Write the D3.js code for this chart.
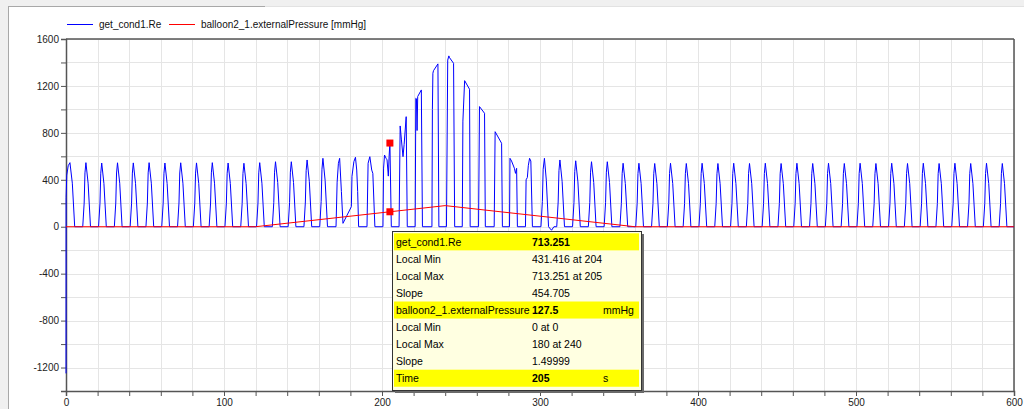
<!DOCTYPE html>
<html><head><meta charset="utf-8">
<script src="https://cdn.jsdelivr.net/npm/d3@7"></script>
<style>
html,body{margin:0;padding:0;background:#f0f0f0;}
svg{display:block;}
text{font-family:"Liberation Sans",Arial,sans-serif;}
</style></head>
<body>
<svg id="chart" width="1024" height="409"></svg>
<script>
// ---------- data ----------
const seriesNames = ["get_cond1.Re", "balloon2_1.externalPressure [mmHg]"];
const seriesColors = ["#0000ff", "#ff0000"];

// get_cond1.Re : [time (s), value]
const reData = [
  [0,-1250],[0.05,250],[0.5,440],[1.4,520],[2.5,546],[4.0,371],[5.5,0],
  [10.6,0],[11.5,202],[12,459],[12.6,546],[14,371],[15.5,0],
  [20.6,0],[21.5,201],[22,456],[22.6,543],[24,369],[25.5,0],
  [30.6,0],[31.5,202],[32,458],[32.6,545],[34,371],[35.5,0],
  [40.6,0],[41.5,201],[42,457],[42.6,544],[44,370],[45.5,0],
  [50.6,0],[51.5,202],[52,459],[52.6,546],[54,371],[55.5,0],
  [60.6,0],[61.5,201],[62,456],[62.6,543],[64,369],[65.5,0],
  [70.6,0],[71.5,202],[72,458],[72.6,545],[74,371],[75.5,0],
  [80.6,0],[81.5,201],[82,457],[82.6,544],[84,370],[85.5,0],
  [90.6,0],[91.5,202],[92,459],[92.6,546],[94,371],[95.5,0],
  [100.6,0],[101.5,201],[102,456],[102.6,543],[104,369],[105.5,0],
  [110.6,0],[111.5,200],[112,454],[112.6,541],[114,368],[115.5,0],
  [120.6,0],[121.5,202],[122,459],[122.6,546],[124,371],[125.5,0],
  [130.6,0],[131.5,205],[132,465],[132.6,554],[134,377],[135.5,0],
  [140.6,0],[141.5,205],[142,465],[142.6,554],[144,377],[145.5,0],
  [150.6,0],[151.5,211],[152,478],[152.6,569],[154,387],[155.5,0],
  [160.6,0],[161.5,216],[162,490],[162.6,583],[164,396],[165.5,0],
  [170.9,0],[171.6,380],[172.4,540],[173.2,583],[174.3,300],[175.3,29],[180.6,171],
  [181.0,430],[182.2,555],[183.2,592],[184.0,483],[184.6,300],[185.2,0],
  [190.5,0],[191.2,541],[192.3,597],[193.5,483],[194.2,455],[195.5,0],
  [200.6,0],[201.0,500],[201.6,611],[202.6,583],[203.2,570],[204,431.416],[204.5,600],[205,713.251],[205.9,0],
  [210.8,0],[211.5,859],[212.3,740],[213.3,597],[214.0,700],[215.3,938],[216.0,0],
  [221.0,0],[221.4,1095],[221.8,1090],[222.2,820],[222.6,1110],[224.9,1166],[225.6,0],
  [231.6,0],[231.9,1000],[232.2,1308],[232.6,1330],[235.4,1388],[236.0,0],
  [240.8,0],[241.6,1420],[242.3,1456],[242.8,1440],[245.3,1393],[246.0,0],
  [250.8,0],[251.2,900],[252.3,1245],[255.4,1172],[255.8,0],
  [261.1,0],[261.7,1024],[264.9,967],[265.4,0],
  [271.0,0],[271.6,810],[275.7,711],[276.2,0],
  [280.7,0],[281.0,583],[282.0,560],[283.8,498],[284.5,455],[285.2,498],[285.7,0],
  [290.8,0],[291.2,400],[292.0,420],[292.6,520],[293.4,583],[294.2,560],[295.2,0],
  [300.6,0],[301.5,216],[302.0,490],[302.8,583],[304.0,396],[305.4,0],[307.3,-30],[308.8,0],
  [310.6,0],[311.5,211],[312,478],[312.6,569],[314,387],[315.5,0],
  [320.6,0],[321.5,208],[322,472],[322.6,562],[324,382],[325.5,0],
  [330.6,0],[331.5,205],[332,465],[332.6,554],[334,377],[335.5,0],
  [340.6,0],[341.5,205],[342,465],[342.6,554],[344,377],[345.5,0],
  [350.6,0],[351.5,200],[352,454],[352.6,541],[354,368],[355.5,0],
  [360.6,0],[361.5,200],[362,454],[362.6,541],[364,368],[365.5,0],
  [370.6,0],[371.5,199],[372,452],[372.6,539],[374,367],[375.5,0],
  [380.6,0],[381.5,200],[382,454],[382.6,541],[384,368],[385.5,0],
  [390.6,0],[391.5,199],[392,452],[392.6,539],[394,367],[395.5,0],
  [400.6,0],[401.5,200],[402,454],[402.6,541],[404,368],[405.5,0],
  [410.6,0],[411.5,199],[412,452],[412.6,539],[414,367],[415.5,0],
  [420.6,0],[421.5,200],[422,454],[422.6,541],[424,368],[425.5,0],
  [430.6,0],[431.5,199],[432,452],[432.6,539],[434,367],[435.5,0],
  [440.6,0],[441.5,200],[442,454],[442.6,541],[444,368],[445.5,0],
  [450.6,0],[451.5,199],[452,452],[452.6,539],[454,367],[455.5,0],
  [460.6,0],[461.5,200],[462,454],[462.6,541],[464,368],[465.5,0],
  [470.6,0],[471.5,199],[472,452],[472.6,539],[474,367],[475.5,0],
  [480.6,0],[481.5,200],[482,454],[482.6,541],[484,368],[485.5,0],
  [490.6,0],[491.5,199],[492,452],[492.6,539],[494,367],[495.5,0],
  [500.6,0],[501.5,200],[502,454],[502.6,541],[504,368],[505.5,0],
  [510.6,0],[511.5,199],[512,452],[512.6,539],[514,367],[515.5,0],
  [520.6,0],[521.5,200],[522,454],[522.6,541],[524,368],[525.5,0],
  [530.6,0],[531.5,199],[532,452],[532.6,539],[534,367],[535.5,0],
  [540.6,0],[541.5,200],[542,454],[542.6,541],[544,368],[545.5,0],
  [550.6,0],[551.5,199],[552,452],[552.6,539],[554,367],[555.5,0],
  [560.6,0],[561.5,200],[562,454],[562.6,541],[564,368],[565.5,0],
  [570.6,0],[571.5,199],[572,452],[572.6,539],[574,367],[575.5,0],
  [580.6,0],[581.5,200],[582,454],[582.6,541],[584,368],[585.5,0],
  [590.6,0],[591.5,199],[592,452],[592.6,539],[594,367],[595.5,0],
  [600,0]
];

// balloon2_1.externalPressure [mmHg] : [time (s), value]
const pressureData = [[0,0],[120,0],[240,180],[360,0],[600,0]];

// cursor markers at t = 205
const markers = [[205, 713.251], [205, 127.5]];

const xTicks = [0,100,200,300,400,500,600];
const xMinor = d3.range(0, 601, 20);
const yTicks = [-1200,-800,-400,0,400,800,1200,1600];
const yMinor = d3.range(-1400, 1601, 200);

// tooltip rows: [label, value, unit, highlighted]
const tipRows = [
  ["get_cond1.Re", "713.251", "", true],
  ["Local Min", "431.416 at 204", "", false],
  ["Local Max", "713.251 at 205", "", false],
  ["Slope", "454.705", "", false],
  ["balloon2_1.externalPressure", "127.5", "mmHg", true],
  ["Local Min", "0 at 0", "", false],
  ["Local Max", "180 at 240", "", false],
  ["Slope", "1.49999", "", false],
  ["Time", "205", "s", true]
];

// ---------- drawing ----------
(function(){
const svg = d3.select("#chart");
const W = 1024, H = 409;
const pl = 66, pr = 1014, pt = 39, pb = 391;

// frame
svg.append("rect").attr("x",0).attr("y",0).attr("width",W).attr("height",H).attr("fill","#f0f0f0");
svg.append("rect").attr("x",9).attr("y",7).attr("width",W-9).attr("height",H-7).attr("fill","#ffffff");
svg.append("line").attr("x1",8.5).attr("x2",8.5).attr("y1",6).attr("y2",H).attr("stroke","#a8a8a8");
svg.append("line").attr("x1",8).attr("x2",265).attr("y1",6.5).attr("y2",6.5).attr("stroke","#a8a8a8");
svg.append("line").attr("x1",265).attr("x2",W).attr("y1",6.5).attr("y2",6.5).attr("stroke","#e2e2e2");

const x = d3.scaleLinear().domain([0,600]).range([pl,pr]);
const y = d3.scaleLinear().domain([-1400,1600]).range([pb,pt]);

// grid
const grid = svg.append("g");
grid.selectAll(".gx").data(xMinor).enter().append("line")
  .attr("x1",d=>Math.round(x(d))+0.5).attr("x2",d=>Math.round(x(d))+0.5)
  .attr("y1",pt).attr("y2",pb).attr("stroke","#e5e5e5");
grid.selectAll(".gy").data(yMinor).enter().append("line")
  .attr("y1",d=>Math.round(y(d))+0.5).attr("y2",d=>Math.round(y(d))+0.5)
  .attr("x1",pl).attr("x2",pr).attr("stroke","#e5e5e5");

// axes
const axisColor = "#555";
const xAxis = svg.append("g").attr("transform",`translate(0,${pb})`)
  .call(d3.axisBottom(x).tickValues(xMinor).tickSize(5).tickFormat(d => xTicks.includes(d) ? d : ""));
const yAxis = svg.append("g").attr("transform",`translate(${pl},0)`)
  .call(d3.axisLeft(y).tickValues(yMinor).tickSize(5).tickFormat(d => yTicks.includes(d) ? d : ""));
[xAxis, yAxis].forEach(a=>{
  a.select(".domain").attr("stroke",axisColor).attr("stroke-width",1.5);
  a.selectAll(".tick line").attr("stroke",axisColor);
  a.selectAll(".tick text").attr("fill","#222").style("font-size","10px")
    .style("font-family","'Liberation Sans',Arial,sans-serif");
});
yAxis.selectAll(".tick text").attr("x",-7);
xAxis.selectAll(".tick text").attr("y",8);
// top and right border
svg.append("line").attr("x1",pl).attr("x2",pr).attr("y1",pt).attr("y2",pt).attr("stroke",axisColor).attr("stroke-width",1.5);
svg.append("line").attr("x1",pr).attr("x2",pr).attr("y1",pt).attr("y2",pb).attr("stroke",axisColor).attr("stroke-width",1.5);

// series (drawn over the axes, as in the reference)
const line = d3.line().x(d=>x(d[0])).y(d=>y(d[1]));
svg.append("path").datum(reData).attr("d",line).attr("fill","none")
  .attr("stroke",seriesColors[0]).attr("stroke-width",1);
svg.append("path").datum(pressureData).attr("d",line).attr("fill","none")
  .attr("stroke",seriesColors[1]).attr("stroke-width",1);

// legend
const leg = svg.append("g");
const legX = [67, 169];
seriesNames.forEach((n,i)=>{
  leg.append("line").attr("x1",legX[i]).attr("x2",legX[i]+26).attr("y1",24.5).attr("y2",24.5)
    .attr("stroke",seriesColors[i]);
  leg.append("text").attr("x",legX[i]+32).attr("y",28).text(n)
    .style("font-size","10px").attr("fill","#111");
});

// markers
svg.selectAll(".mk").data(markers).enter().append("rect")
  .attr("x",d=>x(d[0])-3.5).attr("y",d=>y(d[1])-3.5).attr("width",7).attr("height",7)
  .attr("fill","#ff0000");

// tooltip
const tx = 392, ty = 231, tw = 249, th = 159;
const tip = svg.append("g");
tip.append("rect").attr("x",tx+3).attr("y",ty+3).attr("width",tw).attr("height",th).attr("fill","#6a6a6a");
tip.append("rect").attr("x",tx+0.5).attr("y",ty+0.5).attr("width",tw).attr("height",th)
  .attr("fill","#ffffe1").attr("stroke","#333");
const rowH = 17.05, row0 = 233.3;
tipRows.forEach((r,i)=>{
  const ry = row0 + i*rowH;
  if (r[3]) tip.append("rect").attr("x",394).attr("y",ry).attr("width",245).attr("height",rowH).attr("fill","#ffff00");
  const base = ry + rowH/2 + 4;
  tip.append("text").attr("x",396).attr("y",base).text(r[0]).style("font-size","10.5px").attr("fill","#000");
  tip.append("text").attr("x",532).attr("y",base).text(r[1]).style("font-size","10.5px")
    .style("font-weight", r[3] ? "bold" : "normal").attr("fill","#000");
  if (r[2]) tip.append("text").attr("x",603).attr("y",base).text(r[2]).style("font-size","10.5px").attr("fill","#000");
});
})();
</script>
</body></html>
